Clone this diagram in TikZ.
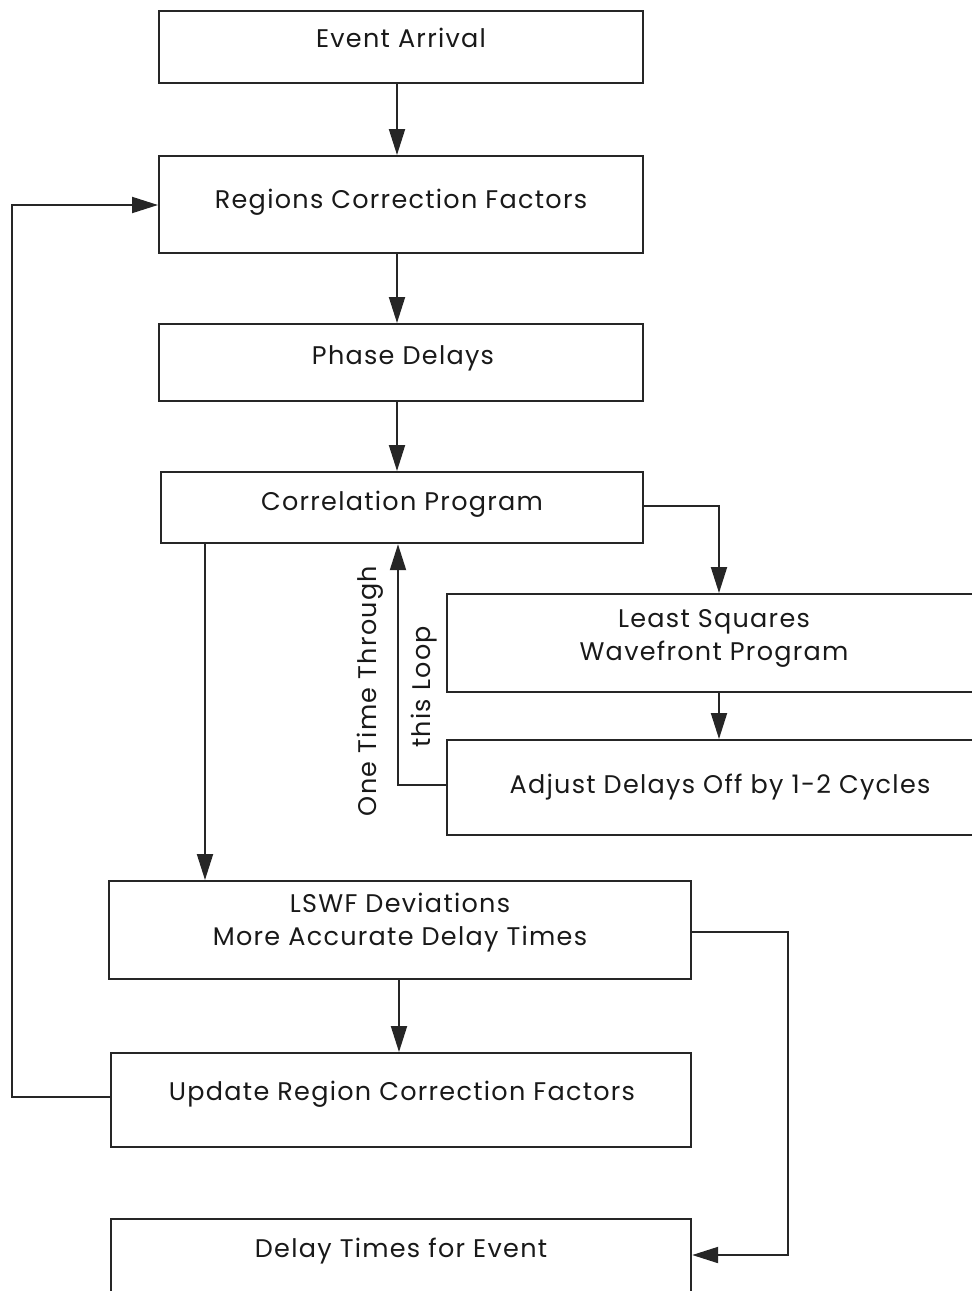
\documentclass[tikz,border=0pt]{standalone}
\usepackage{fontspec}
\setmainfont[LetterSpace=5]{Poppins}
\usetikzlibrary{arrows.meta}
\begin{document}
\begin{tikzpicture}[x=1pt,y=-1pt,
  box/.style={draw=black!85,line width=2.2pt,inner sep=0pt,anchor=north west},
  txt/.style={inner sep=0pt,font=\fontsize{25.5}{33}\selectfont,text=black!90,align=center},
  arr/.style={draw=black!85,line width=2pt,-{Triangle[length=26pt,width=16pt]}}]
\useasboundingbox (0,0) rectangle (972,1291);
\clip (0,0) rectangle (972,1291);
% boxes
\node[box,minimum width=484pt,minimum height=72pt] (ev) at (158,10) {};
\node[box,minimum width=484pt,minimum height=97pt] (rc) at (158,155) {};
\node[box,minimum width=484pt,minimum height=77pt] (pd) at (158,323) {};
\node[box,minimum width=482pt,minimum height=71pt] (cp) at (160,471) {};
\node[box,minimum width=536pt,minimum height=98pt] (ls) at (446,593) {};
\node[box,minimum width=536pt,minimum height=95pt] (ad) at (446,739) {};
\node[box,minimum width=582pt,minimum height=98pt] (lw) at (108,880) {};
\node[box,minimum width=580pt,minimum height=94pt] (up) at (110,1052) {};
\node[box,minimum width=580pt,minimum height=90pt] (dt) at (110,1218) {};
% texts
\node[txt] (evt) at (401,38) {Event Arrival};
\node[txt] (rct) at (401,202) {Regions Correction Factors};
\node[txt] (pdt) at (403,358) {Phase Delays};
\node[txt] (cpt) at (402,504) {Correlation Program};
\node[txt] (lst) at (714,638) {Least Squares\\Wavefront Program};
\node[txt] (adt) at (720,787) {Adjust Delays Off by 1-2 Cycles};
\node[txt] (lwt) at (400,923) {LSWF Deviations\\More Accurate Delay Times};
\node[txt] (upt) at (402,1094) {Update Region Correction Factors};
\node[txt] (dtt) at (401,1251) {Delay Times for Event};
\node[txt,rotate=90] (ott) at (370,691) {One Time Through};
\node[txt,rotate=90] (tlt) at (424,687) {this Loop};
% helper coordinates
\coordinate (x397) at (397,0);
\coordinate (x399) at (399,0);
\coordinate (x398) at (398,0);
\coordinate (x205) at (205,0);
\coordinate (x719) at (719,0);
\coordinate (x12) at (12,0);
\coordinate (x788) at (788,0);
\coordinate (y205) at (0,205);
\coordinate (y506) at (0,506);
\coordinate (y785) at (0,785);
\coordinate (y932) at (0,932);
\coordinate (y1097) at (0,1097);
\coordinate (y1255) at (0,1255);
% connectors
\draw[arr] (ev.south -| x397) -- (rc.north -| x397);
\draw[arr] (rc.south -| x397) -- (pd.north -| x397);
\draw[arr] (pd.south -| x397) -- (cp.north -| x397);
\draw[arr] (cp.east |- y506) -| (ls.north -| x719);
\draw[arr] (ls.south -| x719) -- (ad.north -| x719);
\draw[arr] (ad.west |- y785) -| (cp.south -| x398);
\draw[arr] (cp.south -| x205) -- (lw.north -| x205);
\draw[arr] (lw.south -| x399) -- (up.north -| x399);
\draw[arr] (up.west |- y1097) -- (x12 |- y1097) -- (x12 |- y205) -- (rc.west |- y205);
\draw[arr] (lw.east |- y932) -- (x788 |- y932) -- (x788 |- y1255) -- (dt.east |- y1255);
\end{tikzpicture}
\end{document}
